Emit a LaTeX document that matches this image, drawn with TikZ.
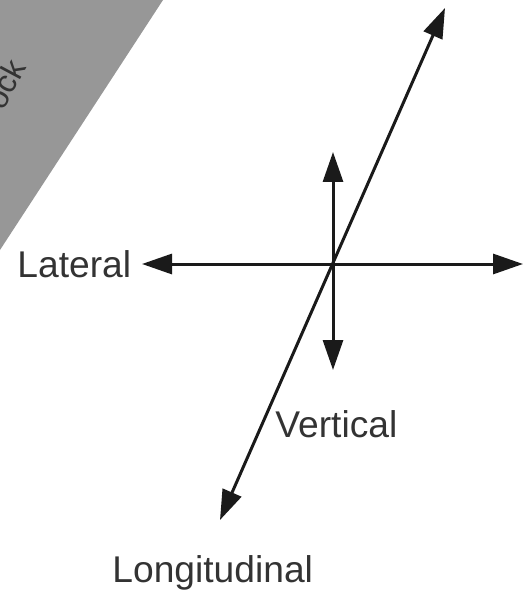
\documentclass[tikz,border=0pt]{standalone}
\usepackage{fontspec}
\setmainfont{Liberation Sans}
\usetikzlibrary{arrows.meta}
\definecolor{bandgray}{HTML}{979797}
\definecolor{ink}{HTML}{1A1A1A}
\definecolor{txt}{HTML}{333333}
\tikzset{
  axis/.style={draw=ink, line width=1.5pt, {Triangle[length=15pt,width=10pt]}-{Triangle[length=15pt,width=10pt]}},
  lbl/.style={text=txt, font=\fontsize{18.6pt}{21pt}\selectfont, inner sep=0pt, anchor=base west}
}
\begin{document}
\begin{tikzpicture}[x=0.5pt,y=-0.5pt]
\useasboundingbox (0,0) rectangle (526,593);
\begin{scope}
\clip (0,0) rectangle (526,593);
\fill[bandgray] (-60,0) -- (163,0) -- (0,250) -- (-60,250) -- cycle;
\node[text=txt, font=\fontsize{16pt}{19pt}\selectfont, rotate=62, anchor=base west, inner sep=0pt] (band) at (3,112) {ock};
\end{scope}
\coordinate (latL) at (142,264);
\coordinate (latR) at (523,264);
\coordinate (vertT) at (333,152);
\coordinate (vertB) at (333,370);
\coordinate (lonT) at (445,8);
\coordinate (lonB) at (220,520);
\draw[axis] (latL) -- (latR);
\draw[axis] (vertB) -- (vertT);
\draw[axis] (lonB) -- (lonT);
\node[lbl] (lateral) at (17,277) {Lateral};
\node[lbl] (vertical) at (275,437) {Vertical};
\node[lbl] (longit) at (112,582) {Longitudinal};
\end{tikzpicture}
\end{document}
